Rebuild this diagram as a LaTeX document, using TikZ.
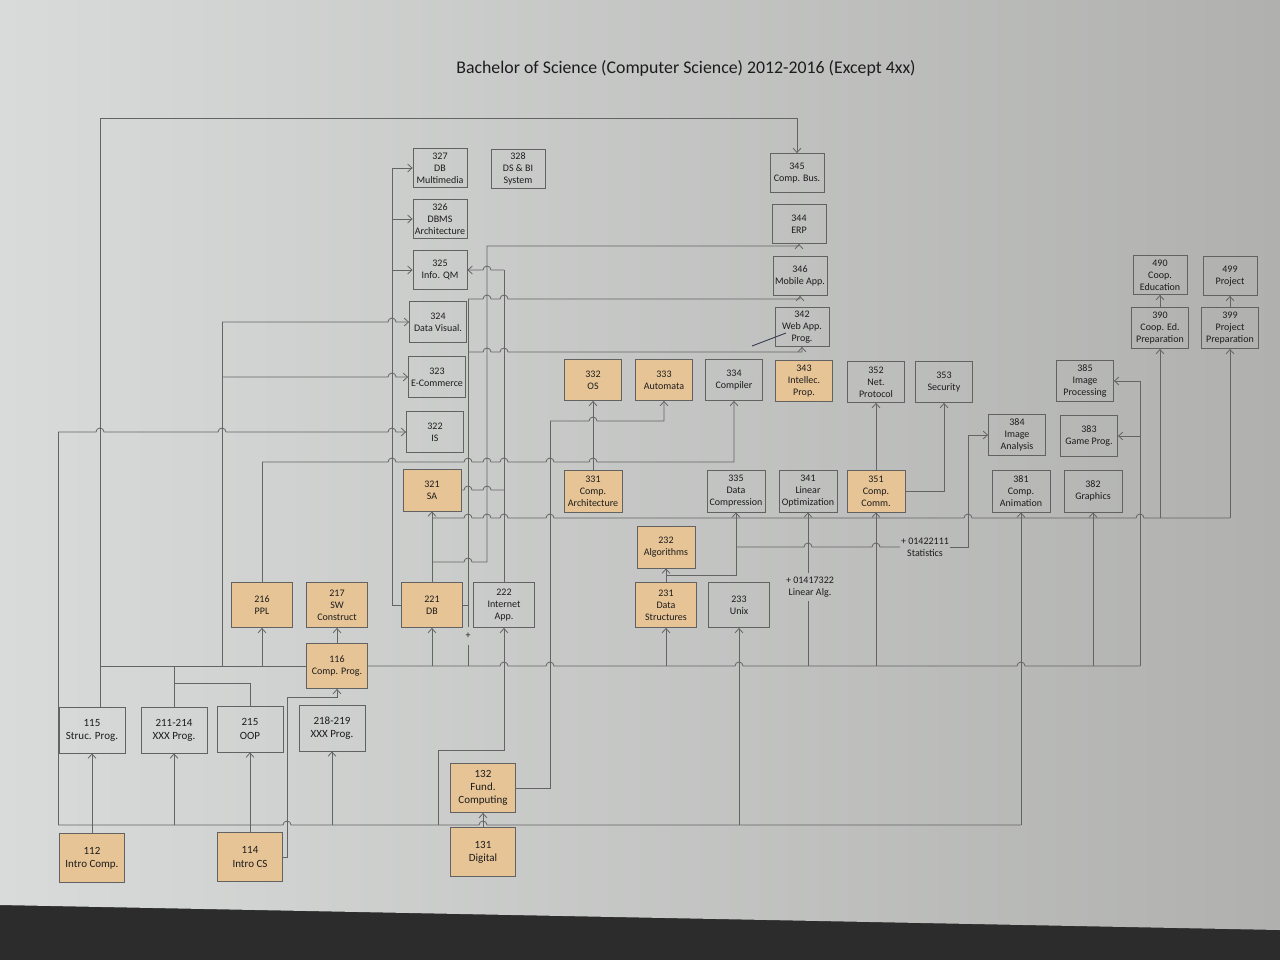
\documentclass[tikz,border=0pt]{standalone}
\usepackage{fontspec}
\setmainfont{Carlito}
\usetikzlibrary{arrows.meta}
\definecolor{paperL}{HTML}{D9DBDA}
\definecolor{paperM}{HTML}{CED0CF}
\definecolor{paperR}{HTML}{B0B1AF}
\definecolor{darkbg}{HTML}{2C2C2C}
\definecolor{orangec}{HTML}{E7C496}
\definecolor{boxc}{HTML}{626262}
\definecolor{wirec}{HTML}{646464}
\definecolor{txtc}{HTML}{1C1C1C}
\definecolor{penc}{HTML}{3A3A52}
\newcommand\bxf{\fontsize{5}{6}\selectfont}
\newcommand\bxg{\fontsize{5.5}{6.6}\selectfont}
\newcommand\hop[5][wire]{\draw[#1] #2 \foreach \hx in {#4}{ -- (\hx-4,#3) arc[start angle=180,end angle=0,radius=2pt]} -- #5;}
\begin{document}
\begin{tikzpicture}[x=0.5pt,y=-0.5pt,
  box/.style={draw=boxc, line width=0.4pt, align=center, font=\bxf, text=txtc, inner sep=0pt},
  obox/.style={box, fill=orangec},
  sA/.style={minimum width=27pt,minimum height=19.5pt},
  sB/.style={minimum width=28.5pt,minimum height=20.5pt},
  sC/.style={minimum width=29pt,minimum height=21pt},
  sD/.style={minimum width=30.5pt,minimum height=22.5pt},
  sE/.style={minimum width=33pt,minimum height=23pt,font=\bxg},
  sF/.style={minimum width=32.5pt,minimum height=24.5pt,font=\bxg},
  wire/.style={draw=wirec, line width=0.4pt},
  arr/.style={wire, -{Straight Barb[length=2.2pt,width=4pt]}},
  rarr/.style={wire, {Straight Barb[length=2.2pt,width=4pt]}-},
  lbl/.style={font=\bxf, text=txtc, align=center, inner sep=0pt},
  ttl/.style={font=\fontsize{8.9}{10}\selectfont, text=txtc, inner sep=0pt}]
\useasboundingbox (0,0) rectangle (1280,960);
\fill[darkbg] (0,0) rectangle (1280,960);
\shade[left color=paperL, middle color=paperM, right color=paperR] (0,0) -- (1280,0) -- (1280,930) -- (0,905) -- cycle;

\node[ttl] (title) at (686,68) {Bachelor of Science (Computer Science) 2012-2016 (Except 4xx)};

% 32x column
\node[box,sA] (n327) at (440,168) {327\\DB\\Multimedia};
\node[box,sA] (n328) at (518,169) {328\\DS \& BI\\System};
\node[box,sA] (n326) at (440,219) {326\\DBMS\\Architecture};
\node[box,sA] (n325) at (440,270) {325\\Info. QM};
\node[box,sB] (n324) at (438,322) {324\\Data Visual.};
\node[box,sB] (n323) at (437,377) {323\\E-Commerce};
\node[box,sB] (n322) at (435,432) {322\\IS};
\node[obox,sC] (n321) at (432,490) {321\\SA};
% 34x column
\node[box,sA] (n345) at (797,173) {345\\Comp. Bus.};
\node[box,sA] (n344) at (799,224) {344\\ERP};
\node[box,sA] (n346) at (800,276) {346\\Mobile App.};
\node[box,sA] (n342) at (802,327) {342\\Web App.\\Prog.};
% 33x row
\node[obox,sB] (n332) at (593,380) {332\\OS};
\node[obox,sB] (n333) at (664,380) {333\\Automata};
\node[box,sB] (n334) at (734,380) {334\\Compiler};
\node[obox,sB] (n343) at (804,381) {343\\Intellec.\\Prop.};
\node[box,sB] (n352) at (876,382) {352\\Net.\\Protocol};
\node[box,sB] (n353) at (944,382) {353\\Security};
\node[box,sB] (n385) at (1085,381) {385\\Image\\Processing};
\node[box,sB] (n384) at (1017,435) {384\\Image\\Analysis};
\node[box,sB] (n383) at (1089,436) {383\\Game Prog.};
% row 331
\node[obox,sC] (n331) at (593,491) {331\\Comp.\\Architecture};
\node[box,sC] (n335) at (736,491) {335\\Data\\Compression};
\node[box,sC] (n341) at (808,491) {341\\Linear\\Optimization};
\node[obox,sC] (n351) at (876,491) {351\\Comp.\\Comm.};
\node[box,sC] (n381) at (1021,491) {381\\Comp.\\Animation};
\node[box,sC] (n382) at (1093,491) {382\\Graphics};
% 390 / 490
\node[box,sA] (n490) at (1160,275) {490\\Coop.\\Education};
\node[box,sA] (n499) at (1230,276) {499\\Project};
\node[box,sB] (n390) at (1160,328) {390\\Coop. Ed.\\Preparation};
\node[box,sB] (n399) at (1230,328) {399\\Project\\Preparation};
% 2xx
\node[obox,sC] (n232) at (666,547) {232\\Algorithms};
\node[obox,sD] (n231) at (666,605) {231\\Data\\Structures};
\node[box,sD] (n233) at (739,605) {233\\Unix};
\node[obox,sD] (n216) at (262,605) {216\\PPL};
\node[obox,sD] (n217) at (337,605) {217\\SW\\Construct};
\node[obox,sD] (n221) at (432,605) {221\\DB};
\node[box,sD] (n222) at (504,605) {222\\Internet\\App.};
\node[obox,sD] (n116) at (337,666) {116\\Comp. Prog.};
\node[box,sE] (n115) at (92,730) {115\\Struc. Prog.};
\node[box,sE] (n211) at (174,730) {211-214\\XXX Prog.};
\node[box,sE] (n215) at (250,729) {215\\OOP};
\node[box,sE] (n218) at (332,728) {218-219\\XXX Prog.};
\node[obox,sF] (n132) at (483,788) {132\\Fund.\\Computing};
\node[obox,sF] (n131) at (483,852) {131\\Digital};
\node[obox,sF] (n112) at (92,858) {112\\Intro Comp.};
\node[obox,sF] (n114) at (250,857) {114\\Intro CS};

% ---- bus A (y=825)
\hop{(58,825)}{825}{287,483}{(1021,825)}
\draw[wire] (58,825) -- (58,432);
\hop[arr]{(58,432)}{432}{100,222,392}{(n322.west)}
\draw[arr] (1021,825) -- (n381.south);
\draw[arr] (739,825) -- (n233.south);
\draw[arr] (n112.north) -- (n115.south);
\draw[arr] (n114.north) -- (n215.south);
\draw[arr] (174,825) -- (n211.south);
\draw[arr] (332,825) -- (n218.south);
\draw[arr] (n131.north) -- (n132.south);
\draw[arr] (n114.east) -- (287,857) -- (287,697) -- (337,697) -- (n116.south);
\draw[arr] (438,825) -- (438,750) -- (504,750) -- (n222.south);
\draw[wire] (n132.east) -- (550,788) -- (550,421);
\hop[arr]{(550,421)}{421}{593}{(664,421) -- (n333.south)}

% ---- 115 line to 345
\draw[arr] (100,707) -- (100,118) -- (797,118) -- (n345.north);

% ---- bus B (y=666)
\draw[wire] (100,666) -- (n116.west);
\hop{(n116.east)}{666}{504,550,739,1021}{(1140,666)}
\draw[wire] (174,666) -- (n211.north);
\draw[wire] (174,683) -- (250,683) -- (n215.north);
\draw[arr] (262,666) -- (n216.south);
\draw[wire] (222,666) -- (222,322);
\hop[arr]{(222,322)}{322}{392}{(n324.west)}
\hop[arr]{(222,377)}{377}{392}{(n323.west)}
\draw[arr] (n116.north) -- (n217.south);
\draw[arr] (432,666) -- (n221.south);
\draw[wire] (468,666) -- (468,645);
\node[lbl] (plus) at (468,636) {+};
\draw[wire] (468,627) -- (468,299);
\draw[wire] (n221.east) -- (468,605);
\hop[arr]{(468,299)}{299}{487,504}{(800,299) -- (n346.south)}
\hop[arr]{(468,352)}{352}{487,504}{(802,352) -- (n342.south)}
\draw[arr] (666,666) -- (n231.south);
\draw[wire] (808,666) -- (808,601);
\node[lbl] (linalg) at (810,587) {+ 01417322\\Linear Alg.};
\draw[arr] (808,573) -- (n341.south);
\draw[arr] (876,666) -- (n351.south);
\draw[arr] (1093,666) -- (n382.south);
\draw[wire] (1140,666) -- (1140,381);
\draw[arr] (1140,381) -- (n385.east);
\draw[arr] (1140,436) -- (n383.east);

% ---- 221 wiring
\draw[wire] (n221.west) -- (392,605) -- (392,168);
\draw[arr] (392,168) -- (n327.west);
\draw[arr] (392,219) -- (n326.west);
\draw[arr] (392,270) -- (n325.west);
\draw[arr] (n221.north) -- (n321.south);
\hop[arr]{(432,562)}{562}{468}{(487,562) -- (487,246) -- (799,246) -- (n344.south)}
\hop[rarr]{(n325.east)}{270}{487}{(504,270)}
\draw[wire] (504,270) -- (n222.north);
\hop{(n321.east)}{490}{468,487}{(504,490)}

% ---- 216 -> 334
\draw[wire] (n216.north) -- (262,462);
\hop[arr]{(262,462)}{462}{392,468,487,504,550,593}{(734,462) -- (n334.south)}

% ---- bus C (y=518)
\hop{(432,518)}{518}{468,487,504,550,968,1140}{(1230,518)}
\draw[arr] (1160,518) -- (n390.south);
\draw[arr] (1230,518) -- (n399.south);

% ---- 231 / 232
\draw[arr] (n231.north) -- (n232.south);
\draw[arr] (666,575) -- (736,575) -- (n335.south);
\hop{(736,547)}{547}{808,876}{(900,547)}
\node[lbl] (stat) at (925,547) {+ 01422111\\Statistics};
\draw[arr] (950,547) -- (968,547) -- (968,435) -- (n384.west);

% ---- others
\draw[arr] (n331.north) -- (n332.south);
\draw[arr] (n351.north) -- (n352.south);
\draw[arr] (n351.east) -- (944,491) -- (n353.south);
\draw[arr] (n390.north) -- (n490.south);
\draw[arr] (n399.north) -- (n499.south);
\coordinate (penA) at (752,346);
\coordinate (penB) at (786,333);
\draw[penc, line width=0.45pt] (penA) -- (penB);
\end{tikzpicture}
\end{document}
